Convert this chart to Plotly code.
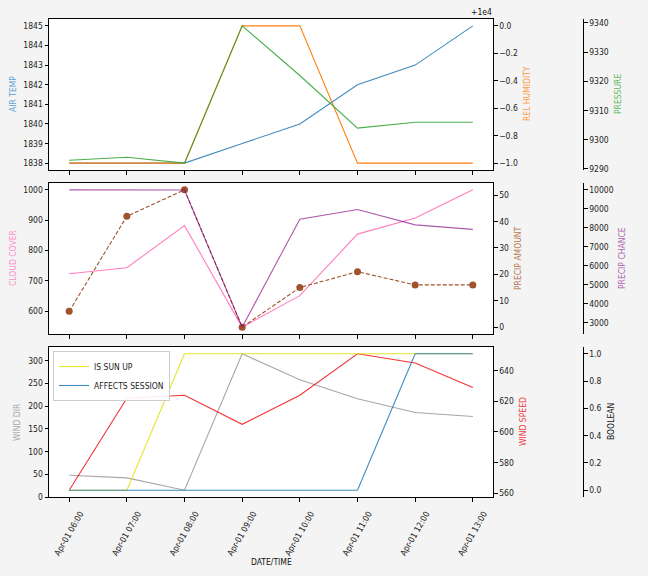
import plotly.graph_objects as go

# ---------------- data ----------------
times = ["2024-04-01 06:00", "2024-04-01 07:00", "2024-04-01 08:00", "2024-04-01 09:00",
         "2024-04-01 10:00", "2024-04-01 11:00", "2024-04-01 12:00", "2024-04-01 13:00"]
air_temp = [1838, 1838, 1838, 1839, 1840, 1842, 1843, 1845]
rel_humidity = [9999, 9999, 9999, 10000, 10000, 9999, 9999, 9999]
pressure = [9293, 9294, 9292, 9339, 9322, 9304, 9306, 9306]
cloud_cover = [723, 743, 882, 547, 651, 854, 907, 1000]
precip_amount = [6, 42, 52, 0, 15, 21, 16, 16]
precip_chance = [10000, 9980, 9990, 2780, 8460, 8970, 8160, 7920]
wind_dir = [48, 42, 15, 315, 258, 216, 186, 177]
wind_speed = [562, 622, 624, 605, 624, 651, 645, 629]
is_sun_up = [0, 0, 1, 1, 1, 1, 1, 1]
affects_session = [0, 0, 0, 0, 0, 0, 1, 1]
hum_ticks = ["\u22121.0", "\u22120.8", "\u22120.6", "\u22120.4", "\u22120.2", "0.0"]

W, H = 648, 576
FONT = "DejaVu Sans Condensed, Liberation Sans Narrow, DejaVu Sans"
FS = 8.5
TICKC = "#222222"


def rng(v, m=0.05):
    lo, hi = min(v), max(v)
    s = hi - lo
    return [lo - m * s, hi + m * s]


def px_x(p):
    return p / W


def px_y(p):
    return 1 - p / H


XD = [px_x(49), px_x(493)]
POS2 = px_x(583)
panels = [
    [px_y(170), px_y(19)],
    [px_y(334), px_y(183)],
    [px_y(497), px_y(347)],
]

C_AIR = "rgba(31,119,180,0.85)"
C_HUM = "#ff7f0e"
C_PRES = "rgba(44,160,44,0.85)"
C_CLOUD = "rgba(255,105,180,0.85)"
C_PAMT = "#a0522d"
C_PCH = "rgba(128,0,128,0.65)"
C_WDIR = "rgba(128,128,128,0.7)"
C_WSPD = "rgba(238,0,0,0.8)"
C_SUN = "rgba(225,225,0,0.85)"
C_AFF = "rgba(31,119,180,0.85)"

fig = go.Figure()


def line(y, color, xa, ya, name=None, show=False, dash=None, markers=False):
    fig.add_trace(go.Scatter(
        x=times, y=y, xaxis=xa, yaxis=ya, name=name, showlegend=show,
        mode="lines+markers" if markers else "lines",
        line=dict(color=color, width=1.1, dash=dash),
        marker=dict(size=7, color=color) if markers else None,
    ))


# panel 1
line(air_temp, C_AIR, "x", "y")
line(rel_humidity, C_HUM, "x", "y2")
line(pressure, C_PRES, "x", "y3")
# panel 2
line(cloud_cover, C_CLOUD, "x2", "y4")
line(precip_amount, C_PAMT, "x2", "y5", dash="4px,2px", markers=True)
line(precip_chance, C_PCH, "x2", "y6")
# panel 3
line(wind_dir, C_WDIR, "x3", "y7")
line(wind_speed, C_WSPD, "x3", "y8")
line(is_sun_up, C_SUN, "x3", "y9", name="IS SUN UP", show=True)
line(affects_session, C_AFF, "x3", "y9", name="AFFECTS SESSION", show=True)

tickfont = dict(family=FONT, size=FS, color=TICKC)
xr = ["2024-04-01 05:39", "2024-04-01 13:21"]


def xaxis(anchor, labels):
    return dict(domain=XD, anchor=anchor, range=xr, type="date", automargin=False,
                showgrid=False, zeroline=False, showline=True, mirror=True,
                linecolor="black", linewidth=1, ticks="outside", ticklen=3.5,
                tickcolor="black", dtick=3600000, tick0="2024-04-01 06:00",
                showticklabels=labels, tickformat="%b-%d %H:%M", tickangle=-60,
                ticklabelshift=11, ticklabelstandoff=4,
                tickfont=tickfont)


def yleft(dom, r, dtick, anchor):
    return dict(domain=dom, range=r, anchor=anchor, showgrid=False, zeroline=False,
                automargin=False, showline=True, mirror=True, linecolor="black",
                linewidth=1, ticks="outside", ticklen=3.5, tickcolor="black",
                dtick=dtick, tickfont=tickfont, tickformat="d")


def yright(r, dtick, over, anchor, free=False, fmt="d"):
    d = dict(range=r, overlaying=over, side="right", showgrid=False, zeroline=False,
             automargin=False, ticks="outside", ticklen=3.5, tickcolor="black",
             dtick=dtick, tickfont=tickfont, tickformat=fmt)
    if free:
        d.update(anchor="free", position=POS2, showline=True, linecolor="black", linewidth=1)
    else:
        d.update(anchor=anchor, showline=False)
    return d


layout = dict(
    width=W, height=H, margin=dict(l=0, r=0, t=0, b=0, autoexpand=False),
    paper_bgcolor="#f4f4f4", plot_bgcolor="white",
    font=dict(family=FONT, size=FS, color=TICKC),
    showlegend=True,
    legend=dict(x=px_x(53), y=px_y(351), xanchor="left", yanchor="top",
                bgcolor="rgba(255,255,255,0.9)", bordercolor="#cccccc", borderwidth=1,
                font=dict(family=FONT, size=FS, color=TICKC), tracegroupgap=0,
                itemwidth=30),
)
layout["xaxis"] = xaxis("y", False)
layout["xaxis2"] = xaxis("y4", False)
layout["xaxis3"] = xaxis("y7", True)

layout["yaxis"] = yleft(panels[0], rng(air_temp), 1, "x")
hum_vals = [9999 + i * 0.2 for i in range(6)]
y2 = yright(rng(rel_humidity), None, "y", "x")
y2.update(tickmode="array", tickvals=hum_vals, ticktext=hum_ticks)
layout["yaxis2"] = y2
layout["yaxis3"] = yright(rng(pressure), 10, "y", "x", free=True)

layout["yaxis4"] = yleft(panels[1], rng(cloud_cover), 100, "x2")
layout["yaxis5"] = yright(rng(precip_amount), 10, "y4", "x2")
layout["yaxis6"] = yright(rng(precip_chance), 1000, "y4", "x2", free=True)

layout["yaxis7"] = yleft(panels[2], rng(wind_dir), 50, "x3")
layout["yaxis8"] = yright(rng(wind_speed), 20, "y7", "x3")
layout["yaxis9"] = yright([-0.05, 1.05], 0.2, "y7", "x3", free=True, fmt=".1f")

fig.update_layout(**layout)


def vlabel(text, xp, yp, color):
    fig.add_annotation(text=text, x=px_x(xp), y=px_y(yp), xref="paper", yref="paper",
                       showarrow=False, textangle=-90, xanchor="center", yanchor="middle",
                       font=dict(family=FONT, size=FS, color=color))


vlabel("AIR TEMP", 13, 94, "#5a9fd4")
vlabel("REL HUMIDITY", 527, 94, "#ff9a3c")
vlabel("PRESSURE", 618, 94, "#5cb85c")
vlabel("CLOUD COVER", 13, 258, "#ff8cc6")
vlabel("PRECIP AMOUNT", 518, 258, "#b8744e")
vlabel("PRECIP CHANCE", 622, 258, "#b060b0")
vlabel("WIND DIR", 17, 422, "#aaaaaa")
vlabel("WIND SPEED", 523, 422, "#ee3a3a")
vlabel("BOOLEAN", 611, 422, "#111111")

fig.add_annotation(text="DATE/TIME", x=px_x(271), y=px_y(562), xref="paper", yref="paper",
                   showarrow=False, xanchor="center", yanchor="middle",
                   font=dict(family=FONT, size=FS, color="#111111"))
fig.add_annotation(text="+1e4", x=px_x(494), y=px_y(12), xref="paper", yref="paper",
                   showarrow=False, xanchor="right", yanchor="middle",
                   font=dict(family=FONT, size=FS, color="#111111"))

post = ("document.documentElement.style.margin='0';"
        "document.body.style.margin='0';document.body.style.padding='0';"
        "document.body.style.overflow='hidden';"
        "var gd=document.getElementById('{plot_id}');"
        "Plotly.relayout(gd,{width:648,height:576});")

fig.write_html("out.html", config=dict(responsive=False, displayModeBar=False),
               post_script=post)
